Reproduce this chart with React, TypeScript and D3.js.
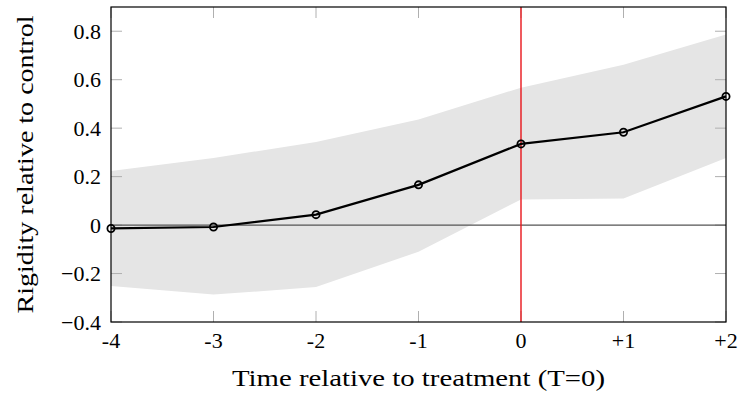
import React, { useRef, useEffect } from "react";
import * as d3 from "d3";

// event time relative to treatment
const periods = [-4, -3, -2, -1, 0, 1, 2];
const periodLabels = ["-4", "-3", "-2", "-1", "0", "+1", "+2"];
// point estimates
const estimate = [-0.014, -0.008, 0.043, 0.166, 0.335, 0.383, 0.531];
// confidence band
const upper = [0.223, 0.277, 0.343, 0.436, 0.567, 0.662, 0.786];
const lower = [-0.251, -0.287, -0.256, -0.11, 0.106, 0.11, 0.277];
const yTicks = [-0.4, -0.2, 0, 0.2, 0.4, 0.6, 0.8];

const W = 743;
const H = 397;
const FONT = "'Liberation Serif', 'DejaVu Serif', serif";

function App() {
  const svgRef = useRef<SVGSVGElement>(null);

  useEffect(() => {
    const margin = { top: 7, right: 17, bottom: 75, left: 111 };
    const width = W - margin.left - margin.right;
    const height = H - margin.top - margin.bottom;

    const root = d3.select(svgRef.current);
    root.selectAll("*").remove();
    const svg = root
      .append("g")
      .attr("transform", `translate(${margin.left},${margin.top})`);

    const x = d3.scaleLinear().domain([-4, 2]).range([0, width]);
    const y = d3.scaleLinear().domain([-0.4, 0.9]).range([height, 0]);

    const rows = periods.map((p, i) => ({
      p,
      est: estimate[i],
      hi: upper[i],
      lo: lower[i],
    }));

    // confidence band
    svg
      .append("path")
      .datum(rows)
      .attr(
        "d",
        d3
          .area<any>()
          .x((d) => x(d.p))
          .y0((d) => y(d.lo))
          .y1((d) => y(d.hi))
      )
      .attr("fill", "#e5e5e5");

    // gray ticks on all four sides, pointing inward
    const tickLen = 11;
    const tickColor = "#b0b0b0";
    yTicks.forEach((t) => {
      svg.append("line").attr("x1", 0).attr("x2", tickLen).attr("y1", y(t)).attr("y2", y(t))
        .attr("stroke", tickColor).attr("stroke-width", 1);
      svg.append("line").attr("x1", width - tickLen).attr("x2", width).attr("y1", y(t)).attr("y2", y(t))
        .attr("stroke", tickColor).attr("stroke-width", 1);
    });
    periods.forEach((p) => {
      svg.append("line").attr("x1", x(p)).attr("x2", x(p)).attr("y1", height).attr("y2", height - tickLen)
        .attr("stroke", tickColor).attr("stroke-width", 1);
      svg.append("line").attr("x1", x(p)).attr("x2", x(p)).attr("y1", 0).attr("y2", tickLen)
        .attr("stroke", tickColor).attr("stroke-width", 1);
    });

    // zero line
    svg
      .append("line")
      .attr("x1", 0)
      .attr("x2", width)
      .attr("y1", y(0))
      .attr("y2", y(0))
      .attr("stroke", "#555")
      .attr("stroke-width", 1.3);

    // treatment line
    svg
      .append("line")
      .attr("x1", x(0))
      .attr("x2", x(0))
      .attr("y1", 0)
      .attr("y2", height)
      .attr("stroke", "#e8151b")
      .attr("stroke-width", 1.4);

    // estimate line
    svg
      .append("path")
      .datum(rows)
      .attr(
        "d",
        d3
          .line<any>()
          .x((d) => x(d.p))
          .y((d) => y(d.est))
      )
      .attr("fill", "none")
      .attr("stroke", "#000")
      .attr("stroke-width", 2.2);

    svg
      .selectAll("circle.pt")
      .data(rows)
      .join("circle")
      .attr("class", "pt")
      .attr("cx", (d) => x(d.p))
      .attr("cy", (d) => y(d.est))
      .attr("r", 3.6)
      .attr("fill", "none")
      .attr("stroke", "#000")
      .attr("stroke-width", 1.8);

    // frame
    svg
      .append("rect")
      .attr("x", 0)
      .attr("y", 0)
      .attr("width", width)
      .attr("height", height)
      .attr("fill", "none")
      .attr("stroke", "#000")
      .attr("stroke-width", 1.2);

    // y tick labels
    svg
      .selectAll("text.ytick")
      .data(yTicks)
      .join("text")
      .attr("class", "ytick")
      .attr("x", -10)
      .attr("y", (d) => y(d))
      .attr("dy", "0.35em")
      .attr("text-anchor", "end")
      .style("font-family", FONT)
      .style("font-size", "22px")
      .text((d) => (d === 0 ? "0" : d3.format(".1f")(d).replace("-", "\u2212")));

    // x tick labels
    svg
      .selectAll("text.xtick")
      .data(periods)
      .join("text")
      .attr("class", "xtick")
      .attr("x", (d) => x(d))
      .attr("y", height + 26)
      .attr("text-anchor", "middle")
      .style("font-family", FONT)
      .style("font-size", "22px")
      .text((d, i) => periodLabels[i]);

    // axis titles
    svg
      .append("text")
      .attr("x", width / 2)
      .attr("y", height + 64)
      .attr("text-anchor", "middle")
      .attr("textLength", 373)
      .attr("lengthAdjust", "spacingAndGlyphs")
      .style("font-family", FONT)
      .style("font-size", "23px")
      .text("Time relative to treatment (T=0)");

    svg
      .append("text")
      .attr("transform", `translate(${-78},${height / 2}) rotate(-90)`)
      .attr("text-anchor", "middle")
      .attr("textLength", 298)
      .attr("lengthAdjust", "spacingAndGlyphs")
      .style("font-family", FONT)
      .style("font-size", "23px")
      .text("Rigidity relative to control");
  }, []);

  return (
    <svg
      ref={svgRef}
      width={W}
      height={H}
      style={{ position: "absolute", left: 0, top: 0, background: "#fff" }}
    />
  );
}

export default App;
